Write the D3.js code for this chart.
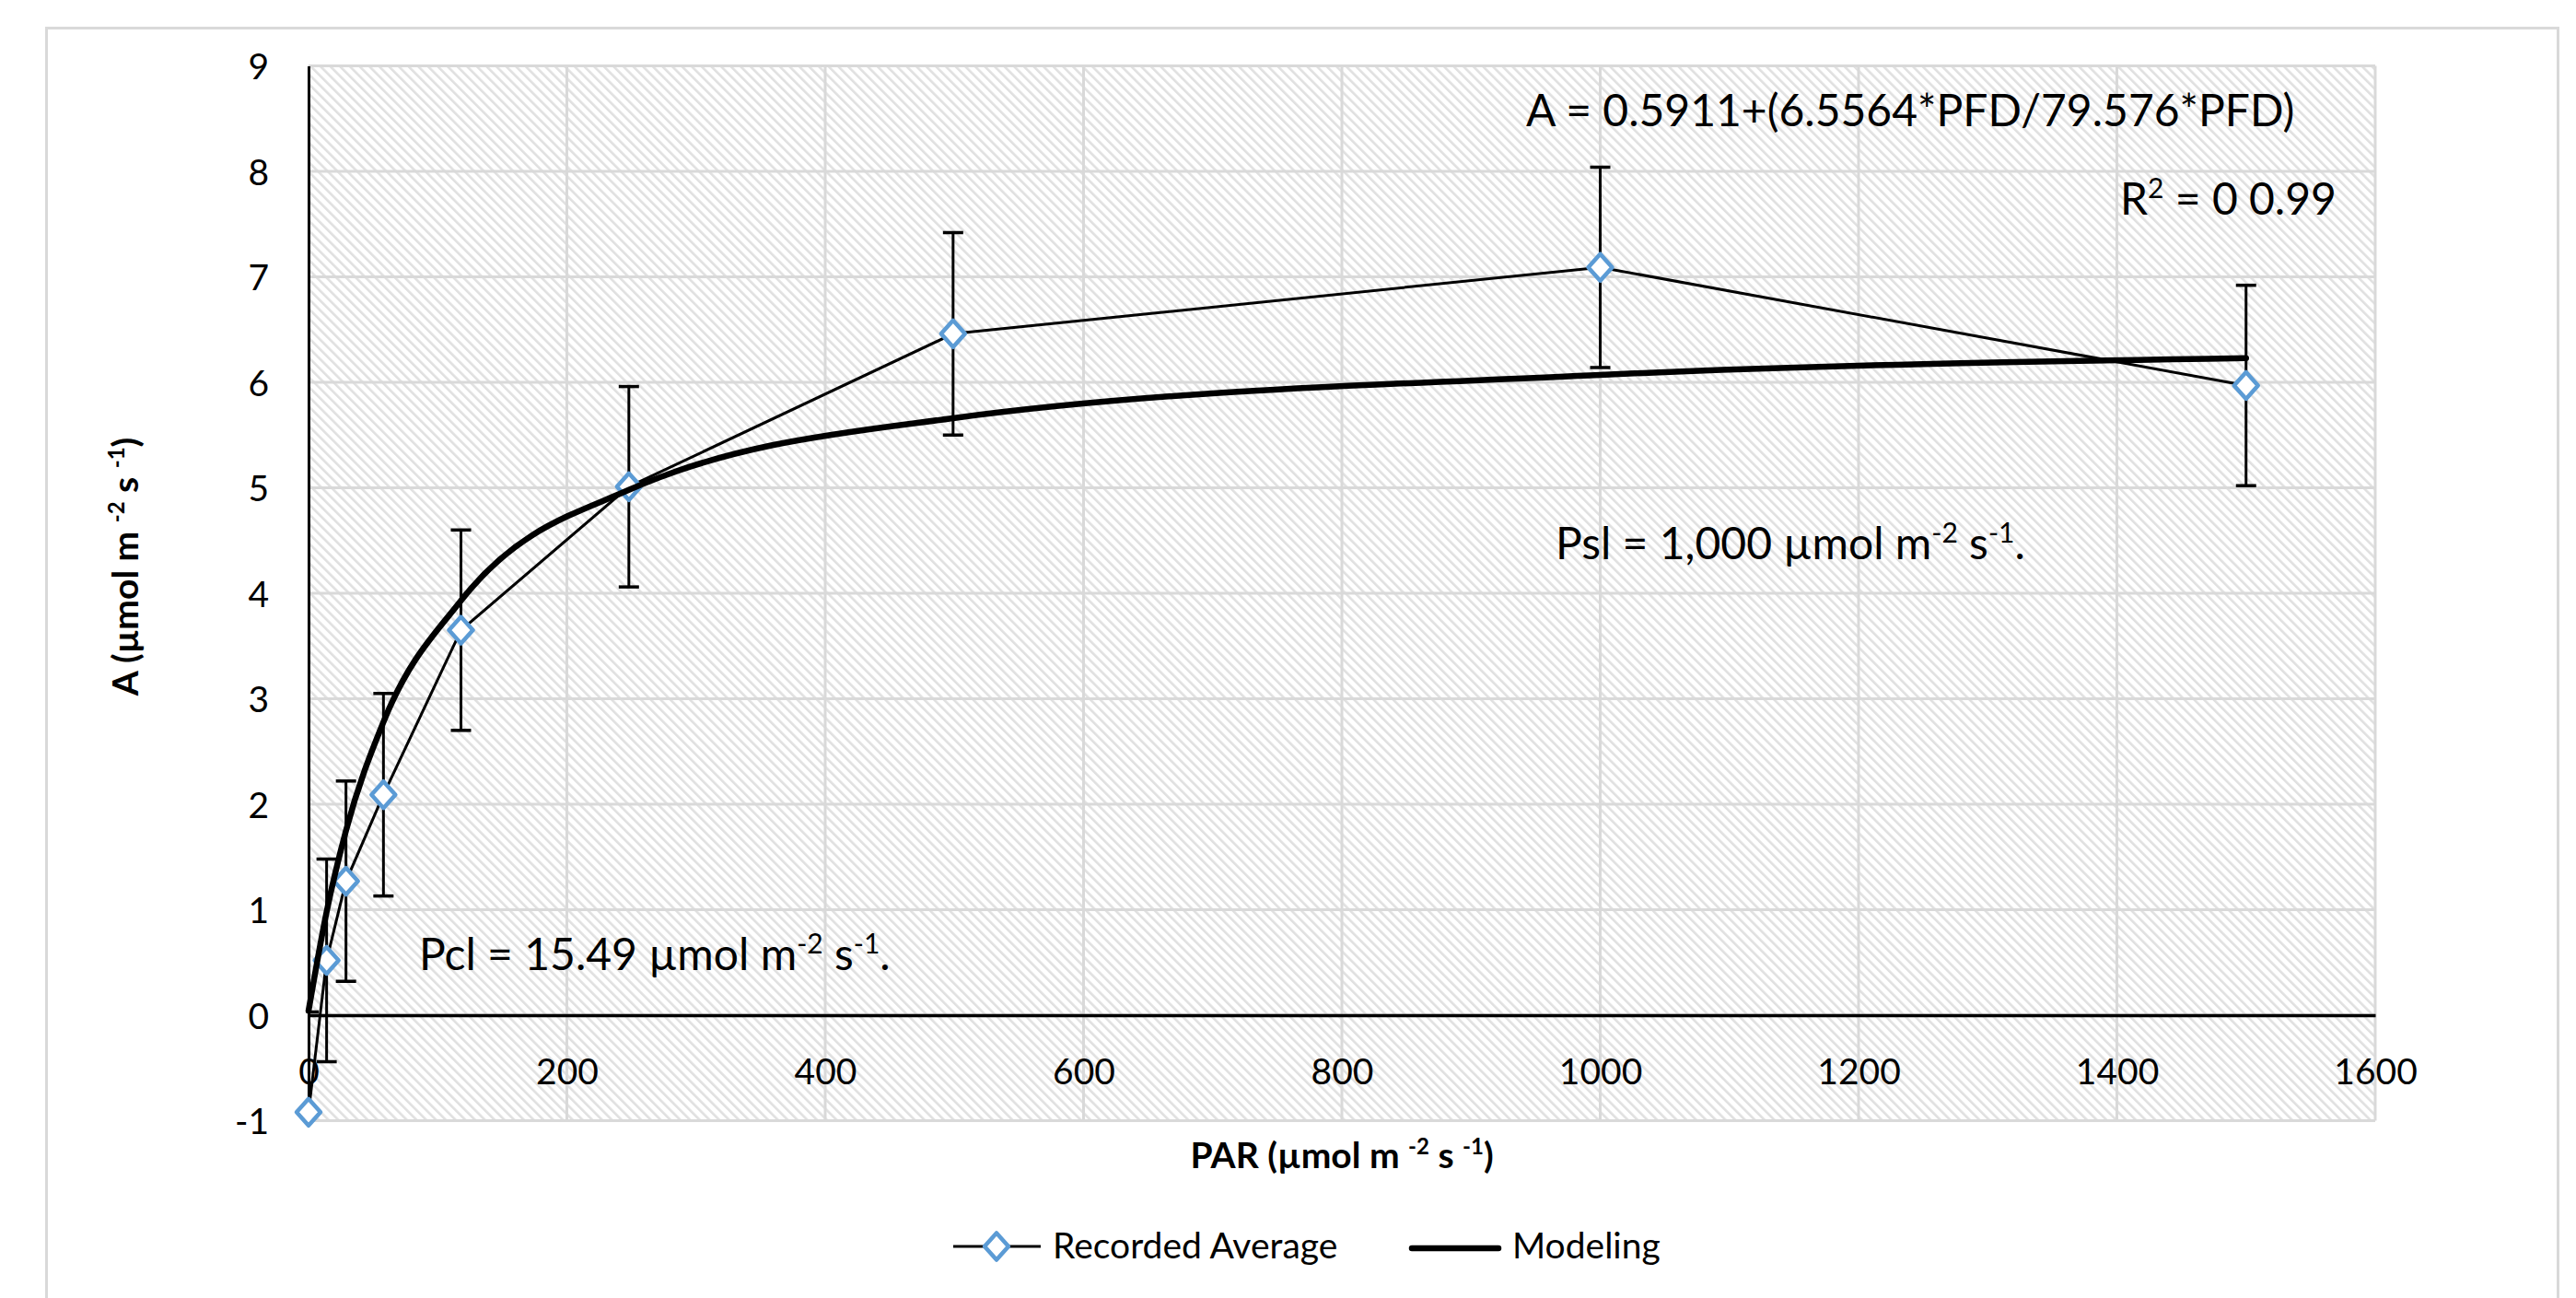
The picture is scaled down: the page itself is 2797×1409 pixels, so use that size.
<!DOCTYPE html>
<html>
<head>
<meta charset="utf-8">
<script src="https://cdn.jsdelivr.net/npm/d3@7"></script>
<style>
  body { margin: 0; background: #fff; }
  text { font-family: Lato, "Noto Sans", sans-serif; fill: #000; }
</style>
</head>
<body>
<div id="chart-area"></div>
<script>
// Data
let parValues = [0, 14, 29, 58, 118, 248, 499, 1000, 1500];
let recordedAvg = [-0.92, 0.52, 1.27, 2.09, 3.65, 5.01, 6.46, 7.09, 5.97];
let errorValues = [0.95, 0.96, 0.95, 0.96, 0.95, 0.95, 0.96, 0.95, 0.95];
let modeledValues = [0.04, 0.98, 1.75, 2.78, 3.93, 4.98, 5.66, 6.07, 6.23];

let xTicks = [0, 200, 400, 600, 800, 1000, 1200, 1400, 1600];
let yTicks = [-1, 0, 1, 2, 3, 4, 5, 6, 7, 8, 9];

let seriesNames = ["Recorded Average", "Modeling"];

// SVG drawing area
let totalW = 2797, totalH = 1409;
let margin = {top: 71.5, right: 218, bottom: 192.5, left: 335};
let width = totalW - margin.left - margin.right,
    height = totalH - margin.top - margin.bottom;

let svgRoot = d3.select("#chart-area").append("svg")
    .attr("width", totalW)
    .attr("height", totalH);

// outer chart border (runs off the bottom edge like the source)
svgRoot.append("rect")
    .attr("x", 50.5).attr("y", 30.5)
    .attr("width", 2727).attr("height", 1420)
    .attr("fill", "none")
    .attr("stroke", "#d9d9d9")
    .attr("stroke-width", 3);

let defs = svgRoot.append("defs");
let pat = defs.append("pattern")
    .attr("id", "hatch")
    .attr("patternUnits", "userSpaceOnUse")
    .attr("width", 7.5).attr("height", 7.5)
    .attr("patternTransform", "rotate(-45)");
pat.append("rect").attr("width", 7.5).attr("height", 7.5).attr("fill", "#fff");
pat.append("rect").attr("width", 2.6).attr("height", 7.5).attr("fill", "#e0e0e0");

defs.append("clipPath").attr("id", "plot-clip")
  .append("rect").attr("width", width).attr("height", height);

let svg = svgRoot.append("g")
    .attr("transform", "translate(" + margin.left + "," + margin.top + ")");

// Scales
let x = d3.scaleLinear().domain([0, 1600]).range([0, width]);
let y = d3.scaleLinear().domain([-1, 9]).range([height, 0]);

// plot background
svg.append("rect")
    .attr("width", width).attr("height", height)
    .attr("fill", "url(#hatch)");

// gridlines
svg.append("g").selectAll("line.hgrid")
    .data(yTicks)
  .enter().append("line")
    .attr("x1", 0).attr("x2", width)
    .attr("y1", d => y(d)).attr("y2", d => y(d))
    .attr("stroke", "#d9d9d9").attr("stroke-width", 3);

svg.append("g").selectAll("line.vgrid")
    .data(xTicks.filter(d => d > 0))
  .enter().append("line")
    .attr("x1", d => x(d)).attr("x2", d => x(d))
    .attr("y1", 0).attr("y2", height)
    .attr("stroke", "#d9d9d9").attr("stroke-width", 3);

// axes (x axis crosses at y = 0)
let xAxis = svg.append("g")
    .attr("class", "x-axis")
    .attr("transform", `translate(0,${y(0)})`)
    .call(d3.axisBottom(x).tickValues(xTicks).tickFormat(d => String(d)).tickSize(0).tickPadding(0));
xAxis.select(".domain").attr("stroke", "#000").attr("stroke-width", 3.5);
xAxis.selectAll(".tick text")
    .attr("y", 75).attr("dy", 0)
    .style("font-size", "39px").style("font-family", "Lato");

let yAxis = svg.append("g")
    .attr("class", "y-axis")
    .call(d3.axisLeft(y).tickValues(yTicks).tickFormat(d => String(d)).tickSize(0).tickPadding(0));
yAxis.select(".domain").attr("stroke", "#000").attr("stroke-width", 3);
yAxis.selectAll(".tick text")
    .attr("x", -43).attr("dy", "0.36em")
    .style("font-size", "39px").style("font-family", "Lato");

let pts = parValues.map((p, i) => ({x: p, y: recordedAvg[i], e: errorValues[i], m: modeledValues[i]}));

// recorded average line
svg.append("path")
    .datum(pts)
    .attr("fill", "none")
    .attr("stroke", "#000")
    .attr("stroke-width", 3)
    .attr("d", d3.line().x(d => x(d.x)).y(d => y(d.y)));

// error bars
let eb = svg.append("g").attr("clip-path", "url(#plot-clip)")
    .selectAll("g.err").data(pts).enter().append("g");
eb.append("line")
    .attr("x1", d => x(d.x)).attr("x2", d => x(d.x))
    .attr("y1", d => y(d.y + d.e)).attr("y2", d => y(d.y - d.e))
    .attr("stroke", "#000").attr("stroke-width", 3);
[1, -1].forEach(s => {
  eb.append("line")
      .attr("x1", d => x(d.x) - 11).attr("x2", d => x(d.x) + 11)
      .attr("y1", d => y(d.y + s * d.e)).attr("y2", d => y(d.y + s * d.e))
      .attr("stroke", "#000").attr("stroke-width", 3.5);
});

// diamond markers
let diamond = "M0,-14.5L13,0L0,14.5L-13,0Z";
svg.selectAll("path.marker")
    .data(pts)
  .enter().append("path")
    .attr("class", "marker")
    .attr("d", diamond)
    .attr("transform", d => `translate(${x(d.x)},${y(d.y)})`)
    .attr("fill", "#fff")
    .attr("stroke", "#5b9bd5")
    .attr("stroke-width", 4.5)
    .attr("stroke-linejoin", "round");

// modeled curve
svg.append("path")
    .datum(pts)
    .attr("fill", "none")
    .attr("stroke", "#000")
    .attr("stroke-width", 6.5)
    .attr("stroke-linecap", "round")
    .attr("d", d3.line().curve(d3.curveMonotoneX).x(d => x(d.x)).y(d => y(d.m)));

// text with superscripts: parts = [[text, isSup], ...]
function richText(g, parts, size) {
  let t = g.append("text").style("font-size", size + "px");
  let raise = size * 0.38, wasSup = false;
  parts.forEach(p => {
    let ts = t.append("tspan").text(p[0]);
    if (p[1]) {
      ts.style("font-size", Math.round(size * 0.62) + "px").attr("dy", -raise);
    } else if (wasSup) {
      ts.attr("dy", raise);
    }
    wasSup = p[1];
  });
  return t;
}

// annotations inside plot
richText(svgRoot, [["A = 0.5911+(6.5564*PFD/79.576*PFD)", false]], 48)
    .attr("x", 1657).attr("y", 137);
richText(svgRoot, [["R", false], ["2", true], [" = 0 0.99", false]], 48)
    .attr("x", 2302).attr("y", 233);
richText(svgRoot, [["Psl = 1,000 \u00b5mol m", false], ["-2", true], [" s", false], ["-1", true], [".", false]], 48)
    .attr("x", 1689).attr("y", 607);
richText(svgRoot, [["Pcl = 15.49 \u00b5mol m", false], ["-2", true], [" s", false], ["-1", true], [".", false]], 48)
    .attr("x", 455).attr("y", 1053);

// axis titles
richText(svgRoot, [["PAR (\u00b5mol m ", false], ["-2", true], [" s ", false], ["-1", true], [")", false]], 39)
    .attr("x", margin.left + width / 2).attr("y", 1268)
    .attr("text-anchor", "middle")
    .style("font-weight", "bold");

richText(svgRoot, [["A (\u00b5mol m ", false], ["-2", true], [" s ", false], ["-1", true], [")", false]], 39)
    .attr("transform", "translate(150,615) rotate(-90)")
    .attr("text-anchor", "middle")
    .style("font-weight", "bold");

// legend
let legend = svgRoot.append("g");
legend.append("line")
    .attr("x1", 1035).attr("x2", 1130).attr("y1", 1353).attr("y2", 1353)
    .attr("stroke", "#000").attr("stroke-width", 3);
legend.append("path")
    .attr("d", diamond)
    .attr("transform", "translate(1082,1353)")
    .attr("fill", "#fff").attr("stroke", "#5b9bd5")
    .attr("stroke-width", 4.5).attr("stroke-linejoin", "round");
legend.append("text")
    .attr("x", 1143).attr("y", 1366)
    .style("font-size", "39px")
    .text(seriesNames[0]);

legend.append("line")
    .attr("x1", 1533).attr("x2", 1627).attr("y1", 1355).attr("y2", 1355)
    .attr("stroke", "#000").attr("stroke-width", 6.5)
    .attr("stroke-linecap", "round");
legend.append("text")
    .attr("x", 1642).attr("y", 1366)
    .style("font-size", "39px")
    .text(seriesNames[1]);
</script>
</body>
</html>
